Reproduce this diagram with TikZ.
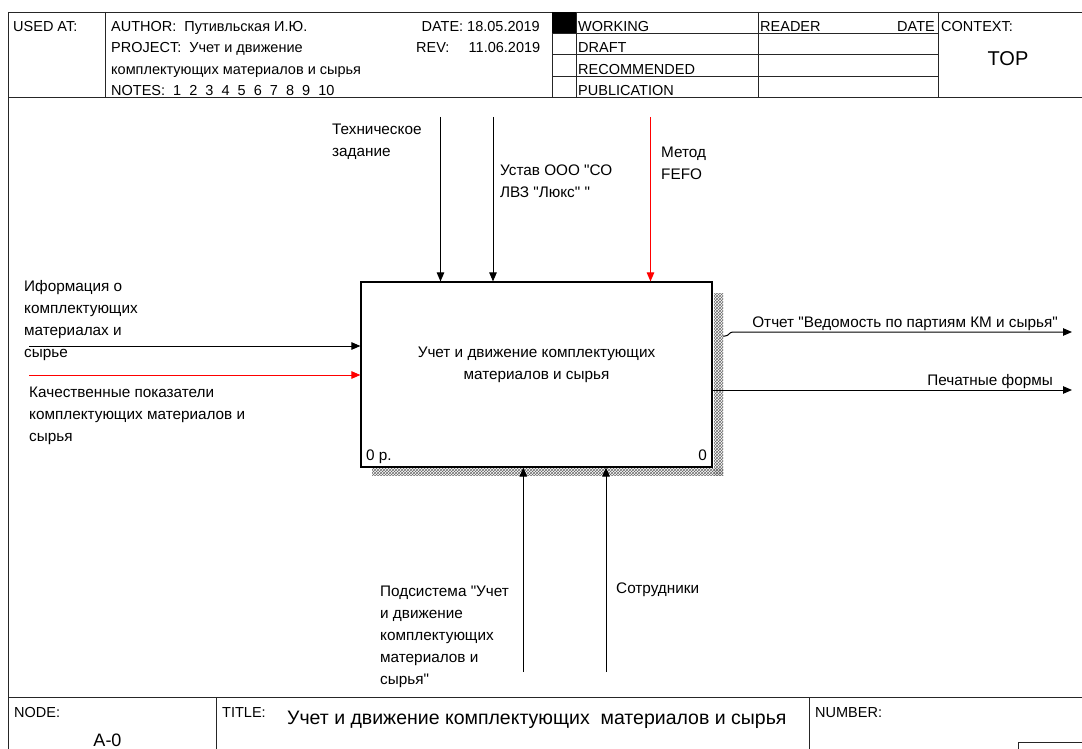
\documentclass[tikz,border=0pt]{standalone}
\usepackage{fontspec}
\setmainfont{Liberation Sans}[Ligatures=TeXOff]
\usetikzlibrary{arrows.meta,patterns}
\newcommand{\dqt}{\char34\relax}
\begin{document}
\begin{tikzpicture}[x=1pt,y=-1pt,
  lbl/.style={inner sep=0pt, anchor=north west, align=left, font=\fontsize{15.3}{22}\selectfont},
  lblb/.style={inner sep=0pt, anchor=base west, font=\fontsize{15.3}{22}\selectfont},
  hdr/.style={inner sep=0pt, anchor=base west, font=\fontsize{14.5}{21}\selectfont},
  frm/.style={draw=black!85, line width=0.9pt},
  arr/.style={line width=1pt, -{Triangle[length=9pt,width=7.5pt]}},
  redarr/.style={arr, draw=red},
  shadow/.style={pattern=crosshatch, pattern color=gray!85!black}
]
\useasboundingbox (0,0) rectangle (1082,749);
\fill[white] (0,0) rectangle (1082,749);

% ---------- header frame ----------
\draw[frm] (8.5,12) -- (1090,12);
\draw[frm] (8.5,97) -- (1090,97);
\draw[frm] (8.5,12) -- (8.5,749);
\draw[frm] (105,12) -- (105,97);
\draw[frm] (552,12) -- (552,97);
\draw[frm] (576,12) -- (576,97);
\draw[frm] (758,12) -- (758,97);
\draw[frm] (938,12) -- (938,97);
\draw[frm] (552,33.5) -- (938,33.5);
\draw[frm] (552,54.5) -- (938,54.5);
\draw[frm] (552,76) -- (938,76);
\fill[black] (552,12) rectangle (576,33.5);

% ---------- header texts ----------
\node[hdr] (usedat) at (13,32) {USED AT:};
\node[hdr] (author) at (111,32) {AUTHOR:\ \ Путивльская И.Ю.};
\node[hdr] (project) at (111,53) {PROJECT:\ \ Учет и движение};
\node[hdr] (project2) at (111,75) {комплектующих материалов и сырья};
\node[hdr] (notes) at (111,96) {NOTES:\ \ 1\ \ 2\ \ 3\ \ 4\ \ 5\ \ 6\ \ 7\ \ 8\ \ 9\ \ 10};
\node[hdr, anchor=base east] (date) at (540,32) {DATE: 18.05.2019};
\node[hdr] (rev) at (416,53) {\makebox[124pt]{REV:\hfill 11.06.2019}};
\node[hdr] (working) at (578,32) {WORKING};
\node[hdr] (draft) at (578,53) {DRAFT};
\node[hdr] (recommended) at (578,75) {RECOMMENDED};
\node[hdr] (publication) at (578,96) {PUBLICATION};
\node[hdr] (reader) at (760,32) {READER};
\node[hdr, anchor=base east] (rdate) at (935,32) {DATE};
\node[hdr] (context) at (941,32) {CONTEXT:};
\node[inner sep=0pt, anchor=base, font=\fontsize{20}{24}\selectfont] (top) at (1008,66) {TOP};

% ---------- activity box ----------
\fill[shadow] (714,293) rectangle (723,475);
\fill[shadow] (372,468) rectangle (723,475);
\node[draw=black, line width=1.2pt, fill=white, minimum width=351pt, minimum height=185pt, inner sep=0pt] (box) at (536.5,374.5) {};
\node[inner sep=0pt, align=center, font=\fontsize{15.3}{22}\selectfont] (boxtext) at (536.5,365) {Учет и движение комплектующих\\материалов и сырья};
\node[lblb] (boxnum) at (366,460) {0 р.};
\node[lblb, anchor=base east] (boxid) at (707,460) {0};

% ---------- controls ----------
\coordinate (c1) at (440.5,117);
\coordinate (c2) at (493,117);
\coordinate (c3) at (650.5,117);
\draw[arr] (c1) -- (c1 |- box.north);
\draw[arr] (c2) -- (c2 |- box.north);
\draw[redarr] (c3) -- (c3 |- box.north);
\node[lbl] (lc1) at (332,124) {Техническое\\задание};
\node[lbl] (lc2) at (500,165) {Устав ООО \dqt СО\\ЛВЗ \dqt Люкс\dqt\ \dqt};
\node[lbl] (lc3) at (661,147) {Метод\\FEFO};

% ---------- inputs ----------
\coordinate (i1) at (29,346);
\coordinate (i2) at (29,375);
\draw[arr] (i1) -- (i1 -| box.west);
\draw[redarr] (i2) -- (i2 -| box.west);
\node[lbl] (li1) at (24,280) {Иформация о\\комплектующих\\материалах и\\сырье};
\node[lbl] (li2) at (29,387) {Качественные показатели\\комплектующих материалов и\\сырья};

% ---------- outputs ----------
\coordinate (o1s) at (723,336);
\coordinate (o1) at (1072,332);
\coordinate (o2) at (1072,390);
\draw[arr] (o1s) -- ++(2,0) .. controls +(4,0) and +(-4,0) .. (733,332) -- (o1);
\draw[arr] (box.east |- o2) -- (o2);
\node[lblb, anchor=base east] (lo1) at (1058,327) {Отчет \dqt Ведомость по партиям КМ и сырья\dqt};
\node[lblb, anchor=base east] (lo2) at (1053,385) {Печатные формы};

% ---------- mechanisms ----------
\coordinate (m1) at (523.3,672);
\coordinate (m2) at (606,672);
\draw[arr] (m1) -- (m1 |- box.south);
\draw[arr] (m2) -- (m2 |- box.south);
\node[lbl] (lm1) at (380,586) {Подсистема \dqt Учет\\и движение\\комплектующих\\материалов и\\сырья\dqt};
\node[lblb] (lm2) at (616,593) {Сотрудники};

% ---------- footer ----------
\draw[frm] (8.5,697) -- (1090,697);
\draw[frm] (216.5,697) -- (216.5,749);
\draw[frm] (809,697) -- (809,749);
\draw[frm] (1018.5,742) rectangle (1090,760);
\node[hdr] (node) at (14,717) {NODE:};
\node[inner sep=0pt, anchor=base, font=\fontsize{18}{22}\selectfont] (nodeid) at (107.5,746.5) {A-0};
\node[hdr] (title) at (222,717) {TITLE:};
\node[inner sep=0pt, anchor=base west, font=\fontsize{19.5}{24}\selectfont] (titletext) at (287,724) {Учет и движение комплектующих\ \ материалов и сырья};
\node[hdr] (number) at (815,717) {NUMBER:};
\end{tikzpicture}
\end{document}
